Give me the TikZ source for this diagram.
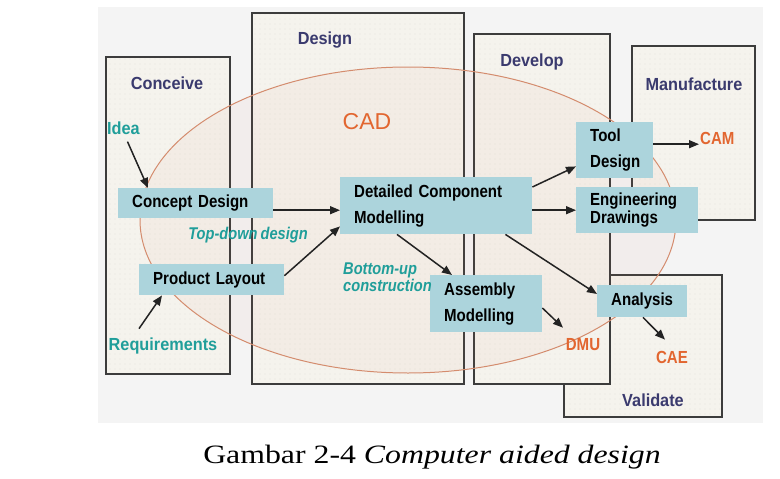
\documentclass[tikz,border=0pt]{standalone}
\usepackage{fontspec}
\setmainfont{Liberation Serif}
\newfontfamily\capfont[FakeStretch=1.2]{Liberation Serif}
\newfontfamily\sansf{Liberation Sans}
\newfontfamily\sansn[FakeStretch=0.86,WordSpace=0.75]{Liberation Sans}
\newfontfamily\sanst[FakeStretch=0.93]{Liberation Sans}
\usetikzlibrary{arrows.meta,patterns.meta,calc}
\definecolor{navyc}{RGB}{58,58,110}
\definecolor{tealc}{RGB}{32,158,154}
\definecolor{orangec}{RGB}{226,102,48}
\definecolor{boxc}{RGB}{172,212,220}
\definecolor{panelc}{RGB}{245,243,237}
\definecolor{bgc}{RGB}{244,244,244}
\definecolor{ellc}{RGB}{212,140,110}
\definecolor{arrc}{RGB}{35,35,35}
\definecolor{borderc}{RGB}{60,60,60}
\begin{document}
\begin{tikzpicture}[x=1pt,y=-1pt,
  panel/.style={draw=borderc, line width=1.1pt, preaction={fill=panelc},
    pattern={Dots[radius=0.45pt,distance=5pt]}, pattern color=black!22},
  ttl/.style={font=\sanst\bfseries\fontsize{17.5}{19}\selectfont, text=navyc, inner sep=1pt},
  lbl/.style={font=\sanst\bfseries\fontsize{17.5}{19}\selectfont, text=tealc, inner sep=1pt},
  ital/.style={font=\sansn\bfseries\itshape\fontsize{17}{17}\selectfont, text=tealc, inner sep=1pt},
  orn/.style={font=\sansn\bfseries\fontsize{17.5}{19}\selectfont, text=orangec, inner sep=1pt},
  bbox/.style={fill=boxc, font=\sansn\bfseries\fontsize{17.5}{26}\selectfont, text=black,
    align=left, anchor=north west, inner xsep=14pt, inner ysep=0pt},
  arr/.style={draw=arrc, line width=1.5pt, -{Triangle[length=10pt,width=8pt]}}
]
\useasboundingbox (0,0) rectangle (780,479);
\fill[white] (0,0) rectangle (780,479);
\fill[bgc] (98,7) rectangle (763,423);

% panels
\draw[panel] (564,275) rectangle (722,417);
\draw[panel] (106,57) rectangle (230,374);
\draw[panel] (252,13) rectangle (464,384);
\draw[panel] (474,34) rectangle (610,384);
\draw[panel] (632,46) rectangle (755,220);

% panel titles
\node[ttl] (conceive) at (167,83) {Conceive};
\node[ttl] (design) at (325,40) {Design};
\node[ttl] (develop) at (532,62) {Develop};
\node[ttl] (manuf) at (694,84) {Manufacture};
\node[ttl] (validate) at (653,400) {Validate};

% CAD ellipse
\draw[ellc, line width=1pt, fill=ellc, fill opacity=0.06] (408,220) ellipse [x radius=268, y radius=153];
\node[font=\sansf\fontsize{23}{25}\selectfont, text=orangec, inner sep=1pt] (cad) at (367,122) {CAD};

% blue boxes
\node[bbox, text width=127pt, minimum height=30pt] (cd) at (118,188) {Concept Design};
\node[bbox, text width=164pt, minimum height=57pt] (dcm) at (340,177) {Detailed Component\\Modelling};
\node[bbox, text width=49pt, minimum height=56pt] (td) at (576,122) {Tool\\Design};
\node[bbox, text width=94pt, minimum height=46pt, font=\sansn\bfseries\fontsize{17.5}{18}\selectfont] (ed) at (576,187) {Engineering\\Drawings};
\node[bbox, text width=117pt, minimum height=31pt] (pl) at (139,264) {Product Layout};
\node[bbox, text width=84pt, minimum height=57pt] (am) at (430,275) {Assembly\\Modelling};
\node[bbox, text width=62pt, minimum height=32pt] (an) at (597,285) {Analysis};

% labels
\node[lbl, anchor=west] (idea) at (106,128) {Idea};
\node[lbl] (req) at (163,346) {Requirements};
\node[ital] (topdown) at (248,235) {Top-down design};
\node[ital, anchor=west, align=left] (bottomup) at (342,277) {Bottom-up\\construction};
\node[orn, anchor=west] (cam) at (699,138) {CAM};
\node[orn] (dmu) at (583,345) {DMU};
\node[orn] (cae) at (672,357) {CAE};

% arrows
\draw[arr] ([xshift=4pt,yshift=-6pt]idea.south) -- ([xshift=30pt]cd.north west);
\draw[arr] ([xshift=-24pt,yshift=8pt]req.north) -- ([xshift=23pt]pl.south west);
\draw[arr] ([yshift=-7pt]cd.east) -- ([yshift=-7pt]cd.east -| dcm.west);
\draw[arr] ([yshift=4pt]pl.east) -- ([yshift=8pt]dcm.south west);
\draw[arr] ([yshift=-10pt]dcm.north east) -- ([yshift=12pt]td.south west);
\draw[arr] ([yshift=-4.5pt]dcm.east) -- ([yshift=-4.5pt]dcm.east -| ed.west);
\draw[arr] ([xshift=57pt]dcm.south west) -- ([xshift=22pt]am.north west);
\draw[arr] ([xshift=-27pt]dcm.south east) -- ([yshift=-9pt]an.north west);
\draw[arr] ([yshift=-33pt]am.north east) -- ([xshift=-20pt,yshift=10pt]dmu.north);
\draw[arr] ([xshift=46pt]an.south west) -- ([xshift=-7pt,yshift=10pt]cae.north);
\draw[arr] ([yshift=6pt]td.east) -- ([yshift=6pt]td.east -| cam.west);

% caption
\node[anchor=base, inner sep=0pt, font=\capfont\fontsize{26.5}{30}\selectfont] (caption) at (432,463)
  {Gambar 2-4 \textit{Computer aided design}};
\end{tikzpicture}
\end{document}
